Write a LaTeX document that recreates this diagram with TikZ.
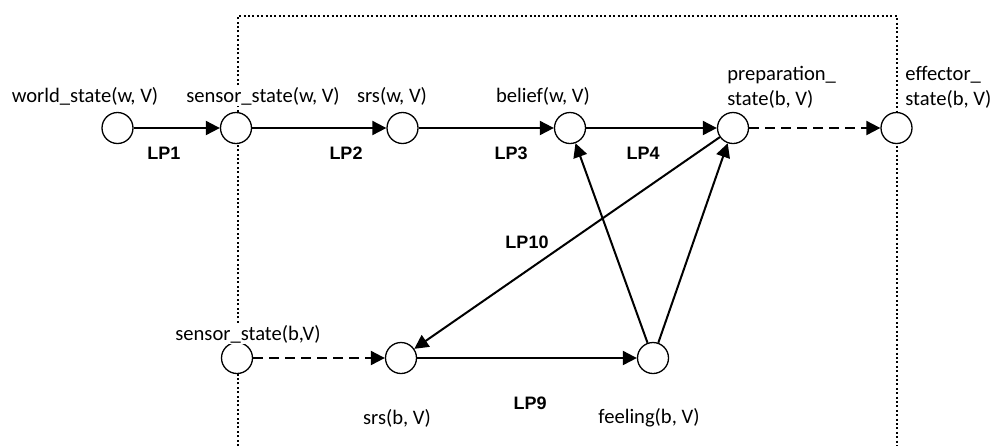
\documentclass[tikz,border=0pt]{standalone}
\usepackage{fontspec}
\setmainfont{Carlito}
\newfontfamily\lpfont{Liberation Sans}
\usetikzlibrary{arrows.meta}
\tikzset{
  st/.style={circle, draw, line width=0.65pt, fill=white, minimum size=15.5pt, inner sep=0pt},
  lbl/.style={font=\fontsize{10.3}{12.5}\selectfont, inner sep=0.5pt, fill=white},
  lp/.style={font=\lpfont\bfseries\fontsize{9}{10}\selectfont, inner sep=0pt},
  conn/.style={line width=1pt, -{Triangle[length=7pt,width=7pt]}},
  dconn/.style={conn, dash pattern=on 5pt off 3pt},
  boxline/.style={line width=1pt, dash pattern=on 1pt off 1.2pt}
}
\begin{document}
\begin{tikzpicture}[x=0.5pt,y=-0.5pt]
\useasboundingbox (0,0) rectangle (1000,446);
% dotted box
\coordinate (bl) at (238,446);
\coordinate (tl) at (238,16);
\coordinate (tr) at (897,16);
\coordinate (br) at (897,446);
\draw[boxline] (bl) -- (tl) -- (tr) -- (br);
% states
\node[st] (ws) at (117.5,128) {};
\node[st] (ssw) at (236,128) {};
\node[st] (srsw) at (402.5,128) {};
\node[st] (bel) at (570,128) {};
\node[st] (prep) at (733,128) {};
\node[st] (eff) at (896.5,128) {};
\node[st] (ssb) at (237,358) {};
\node[st] (srsb) at (401,358) {};
\node[st] (feel) at (653,358) {};
% labels
\node[lbl] (lws) at (85,96) {world\_state(w, V)};
\node[lbl] (lssw) at (263,96) {sensor\_state(w, V)};
\node[lbl] (lsrsw) at (392,96) {srs(w, V)};
\node[lbl] (lbel) at (543,96) {belief(w, V)};
\node[lbl, anchor=west, align=left] (lprep) at (726,87) {preparation\_\\state(b, V)};
\node[lbl, anchor=west, align=left] (leff) at (904,87) {effector\_\\state(b, V)};
\node[lbl] (lssb) at (248,334) {sensor\_state(b,V)};
\node[lbl] (lsrsb) at (397,418) {srs(b, V)};
\node[lbl] (lfeel) at (649,418) {feeling(b, V)};
% connectors
\draw[conn] (ws) -- (ssw);
\draw[conn] (ssw) -- (srsw);
\draw[conn] (srsw) -- (bel);
\draw[conn] (bel) -- (prep);
\draw[dconn] (prep) -- (eff);
\draw[conn] (prep) -- (srsb);
\draw[conn] (feel) -- (bel);
\draw[conn] (feel) -- (prep);
\draw[dconn] (ssb) -- (srsb);
\draw[conn] (srsb) -- (feel);
% LP labels
\node[lp] (lp1) at (164,153) {LP1};
\node[lp] (lp2) at (346,153) {LP2};
\node[lp] (lp3) at (511,153) {LP3};
\node[lp] (lp4) at (643,153) {LP4};
\node[lp] (lp10) at (527,242) {LP10};
\node[lp] (lp9) at (530,403) {LP9};
\end{tikzpicture}
\end{document}
